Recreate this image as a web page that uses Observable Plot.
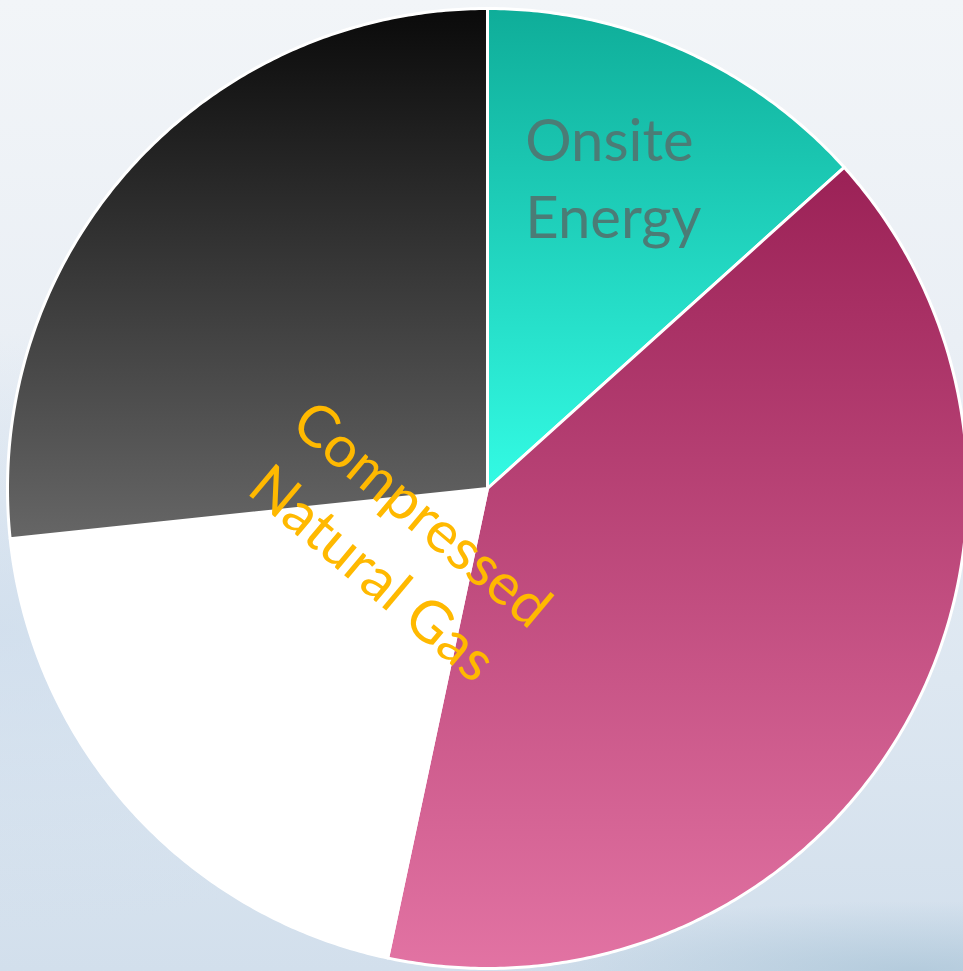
<!DOCTYPE html>
<html>
<head>
<meta charset="utf-8">
<script src="https://cdn.jsdelivr.net/npm/d3@7"></script>
<script src="https://cdn.jsdelivr.net/npm/@observablehq/plot@0.6"></script>
<style>
  body { margin: 0; }
  #chart {
    width: 963px;
    height: 971px;
    overflow: hidden;
    background:
      radial-gradient(ellipse 420px 70px at 95% 100%, rgba(160, 190, 210, 0.6), rgba(160, 190, 210, 0) 100%),
      radial-gradient(ellipse 500px 300px at 0% 65%, rgba(205, 220, 236, 0.7), rgba(205, 220, 236, 0) 100%),
      linear-gradient(to bottom, #f2f5f8 0%, #eaeff5 35%, #dde7f1 70%, #d2dfec 100%);
  }
  #chart svg { background: transparent; display: block; }
</style>
</head>
<body>
<div id="chart"></div>
<script>
// Energy mix shares, clockwise from 12 o'clock
const sliceNames = ["Onsite Energy", "Slice 2", "Compressed Natural Gas", "Slice 4"];
const sliceValues = [2, 6, 3, 4];
// Slices that carry a visible text label
const labelledSlices = ["Onsite Energy", "Compressed Natural Gas"];

// Vertical gradient (top -> bottom) for each slice
const sliceGradients = [
  ["#0fad99", "#33fbe4"],
  ["#9b2156", "#e273a3"],
  ["#ffffff", "#ffffff"],
  ["#0a0a0a", "#666666"]
];

// Label styles
const labelStyles = {
  "Onsite Energy": {fill: "#4b7c76", rotate: 0, r: 0.69, anchor: "start", dx: -97, dy: -11},
  "Compressed Natural Gas": {fill: "#ffb900", rotate: 40, r: 0.21, anchor: "middle", dx: -12, dy: -16}
};

const W = 963, H = 971;
const cx = 487, cy = 488, R = 480;

// Pie layout: angles in radians, clockwise from the top
const arcs = d3.pie().sort(null).value(d => d)(sliceValues);

// Each slice as a closed polygon in unit-circle coordinates (y up)
const polygons = arcs.map((a, i) => {
  const pts = [{x: 0, y: 0}];
  const n = Math.max(2, Math.ceil((a.endAngle - a.startAngle) / (Math.PI / 360)));
  for (let k = 0; k <= n; ++k) {
    const t = a.startAngle + (a.endAngle - a.startAngle) * k / n;
    pts.push({x: Math.sin(t), y: Math.cos(t)});
  }
  pts.push({x: 0, y: 0});
  return pts;
});

// Label anchor points at each slice's mid angle
const labelRows = labelledSlices.map(name => {
  const i = sliceNames.indexOf(name);
  const a = arcs[i];
  const mid = (a.startAngle + a.endAngle) / 2;
  const r = labelStyles[name].r;
  return {name, x: r * Math.sin(mid), y: r * Math.cos(mid)};
});

const gradientDefs = () => {
  const defs = d3.create("svg:defs");
  sliceGradients.forEach(([top, bottom], i) => {
    const g = defs.append("linearGradient")
      .attr("id", `slice-grad-${i}`)
      .attr("x1", 0).attr("y1", 0).attr("x2", 0).attr("y2", 1);
    g.append("stop").attr("offset", "0%").attr("stop-color", top);
    g.append("stop").attr("offset", "100%").attr("stop-color", bottom);
  });
  return defs.node();
};

const plot = Plot.plot({
  width: W,
  height: H,
  margin: 0,
  x: {domain: [-cx / R, (W - cx) / R], axis: null},
  y: {domain: [(cy - H) / R, cy / R], axis: null},
  style: {background: "transparent", overflow: "visible"},
  marks: [
    gradientDefs,
    ...polygons.map((pts, i) =>
      Plot.line(pts, {
        x: "x",
        y: "y",
        fill: `url(#slice-grad-${i})`,
        stroke: "white",
        strokeWidth: 3,
        strokeLinejoin: "round"
      })
    ),
    ...labelRows.map(row =>
      Plot.text([row], {
        x: "x",
        y: "y",
        text: d => d.name.replace(" ", "\n"),
        fill: labelStyles[row.name].fill,
        rotate: labelStyles[row.name].rotate,
        dx: labelStyles[row.name].dx,
        dy: labelStyles[row.name].dy,
        textAnchor: labelStyles[row.name].anchor,
        fontSize: 58,
        lineHeight: 1.33,
        fontFamily: "Lato, 'Open Sans', sans-serif"
      })
    )
  ]
});

document.getElementById("chart").appendChild(plot);
</script>
</body>
</html>
